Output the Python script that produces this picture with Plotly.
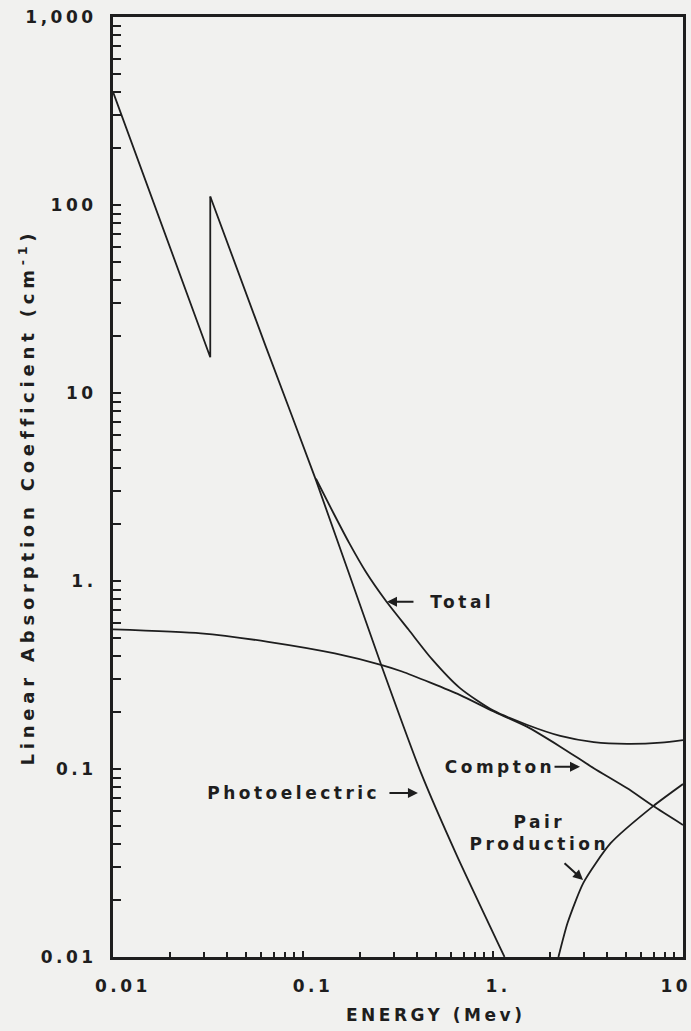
import math
import plotly.graph_objects as go

# ---- data (energy in MeV, coefficient in cm^-1) ----
# photoelectric below the K edge (and the edge jump itself)
photo_lo_x = [0.01, 0.02, 0.0325, 0.0325]
photo_lo_y = [400, 60, 15.5, 111]
# photoelectric above the K edge
photo_hi_x = [0.0325, 0.0638, 0.117, 0.26, 0.418, 0.649, 1.15]
photo_hi_y = [111, 17.6, 3.44, 0.35, 0.0953, 0.0342, 0.01]

# Total coincides with the photoelectric curve below ~0.12 MeV
total_x = [0.117, 0.143, 0.1746, 0.214, 0.2716, 0.36, 0.476, 0.668, 1.0, 1.507,
           2.26, 3.39, 5.09, 7.65, 10]
total_y = [3.5, 2.35, 1.6, 1.12, 0.79, 0.55, 0.385, 0.27, 0.205, 0.172,
           0.150, 0.139, 0.136, 0.138, 0.1425]

compton_x = [0.01, 0.029, 0.0655, 0.147, 0.26, 0.332, 0.668, 1.0, 1.507, 2.26, 3.39, 5.09, 6.97, 10]
compton_y = [0.553, 0.527, 0.475, 0.412, 0.357, 0.33, 0.248, 0.203, 0.168, 0.1315, 0.101, 0.0789, 0.0635, 0.0504]

pair_x = [2.21, 2.47, 2.99, 4.16, 6.97, 10]
pair_y = [0.01, 0.0152, 0.0248, 0.0403, 0.0635, 0.0832]

x_tickvals = [0.01, 0.1, 1, 10]
x_ticktext = ["0.01", "0.1", "1.", "10"]
y_tickvals = [0.01, 0.1, 1, 10, 100, 1000]
y_ticktext = ["0.01", "0.1", "1.", "10", "100", "1,000"]

INK = "#1e1e1e"
BG = "#f1f1ef"
FONT = "DejaVu Sans"

fig = go.Figure()
fig.add_trace(go.Scatter(x=photo_lo_x, y=photo_lo_y, mode="lines", name="Photoelectric",
                         legendgroup="photo", line=dict(color=INK, width=1.8)))
fig.add_trace(go.Scatter(x=photo_hi_x, y=photo_hi_y, mode="lines", name="Photoelectric",
                         legendgroup="photo", showlegend=False,
                         line=dict(color=INK, width=1.8, shape="spline", smoothing=0.5)))
fig.add_trace(go.Scatter(x=total_x, y=total_y, mode="lines", name="Total",
                         line=dict(color=INK, width=1.8, shape="spline", smoothing=0.7)))
fig.add_trace(go.Scatter(x=compton_x, y=compton_y, mode="lines", name="Compton",
                         line=dict(color=INK, width=1.8, shape="spline", smoothing=0.6)))
fig.add_trace(go.Scatter(x=pair_x, y=pair_y, mode="lines", name="Pair Production",
                         line=dict(color=INK, width=1.8, shape="spline", smoothing=0.6)))

minor_vals = [m * 10.0 ** d for d in range(-2, 3) for m in range(2, 10)]

tick_font = dict(family=FONT, size=17, color=INK, weight="bold")
fig.update_xaxes(type="log", range=[-2, 1], showgrid=False, zeroline=False,
                 showline=True, linecolor=INK, linewidth=3, mirror=True,
                 ticks="inside", ticklen=6, tickwidth=2, tickcolor=INK,
                 tickvals=x_tickvals, showticklabels=False, automargin=False,
                 minor=dict(tickvals=[v for v in minor_vals if 0.01 < v < 10],
                            ticks="inside", ticklen=5, tickwidth=1.5, tickcolor=INK))
fig.update_yaxes(type="log", range=[-2, 3], showgrid=False, zeroline=False,
                 showline=True, linecolor=INK, linewidth=3, mirror=True,
                 ticks="inside", ticklen=8, tickwidth=2, tickcolor=INK,
                 tickvals=y_tickvals, ticktext=y_ticktext, automargin=False,
                 ticklabelstandoff=10, tickfont=tick_font, ticklabeloverflow="allow",
                 minor=dict(tickvals=[v for v in minor_vals if 0.01 < v < 1000],
                            ticks="inside", ticklen=8, tickwidth=2, tickcolor=INK))

# x tick labels as annotations so the last one ("10") sits inside the page, as in the original
x_label_shift = [10, 10, 5, -7]
for val, txt, dx in zip(x_tickvals, x_ticktext, x_label_shift):
    fig.add_annotation(text=txt, x=math.log10(val), xref="x", y=0, yref="paper",
                       xanchor="center", yanchor="middle", xshift=dx, yshift=-29,
                       showarrow=False, font=tick_font)

# curve labels (text) and their pointer arrows, positions in log10 axis units
ann_font = dict(family=FONT, size=17, color=INK, weight="bold")
label = dict(showarrow=False, font=ann_font, xref="x", yref="y",
             xanchor="center", yanchor="middle")
pointer = dict(showarrow=True, text="", arrowhead=2, arrowsize=1, arrowwidth=2,
               arrowcolor=INK, xref="x", yref="y", standoff=0, startstandoff=0)

fig.add_annotation(text="Total", x=-0.163, y=-0.110, **label)
fig.add_annotation(x=-0.558, y=-0.110, ax=28, ay=0, **pointer)

fig.add_annotation(text="Compton", x=0.037, y=-0.988, **label)
fig.add_annotation(x=0.458, y=-0.988, ax=-27, ay=0, **pointer)

fig.add_annotation(text="Photoelectric", x=-1.05, y=-1.128, **label)
fig.add_annotation(x=-0.395, y=-1.128, ax=-30, ay=0, **pointer)

fig.add_annotation(text="Pair<br>Production", x=0.247, y=-1.34, align="center", **label)
fig.add_annotation(x=0.474, y=-1.590, ax=-20, ay=-18, **pointer)

fig.add_annotation(text="ENERGY (Mev)", xref="paper", yref="paper", x=0.565, y=-0.0617,
                   xanchor="center", yanchor="middle", showarrow=False,
                   font=dict(family=FONT, size=17, color=INK, weight="bold"))
fig.add_annotation(text="Linear Absorption Coefficient (cm<sup>-1</sup>)", xref="paper", yref="paper",
                   x=-0.151, y=0.489, xanchor="center", yanchor="middle",
                   textangle=-90, showarrow=False,
                   font=dict(family=FONT, size=18, color=INK, weight="bold"))

fig.update_layout(width=691, height=1031, showlegend=False,
                  margin=dict(l=113, r=8, t=17, b=74, autoexpand=False),
                  paper_bgcolor=BG, plot_bgcolor=BG)

post = ("document.body.style.margin='0';"
        "var s=document.createElement('style');"
        "s.textContent='.main-svg text{letter-spacing:3.5px}';"
        "document.head.appendChild(s);"
        "document.querySelectorAll('.annotation-text').forEach(function(t){"
        "if(t.textContent.indexOf('Linear')===0){t.style.letterSpacing='4.8px';}});")
fig.write_html("out.html", post_script=post, config={"displayModeBar": False})
